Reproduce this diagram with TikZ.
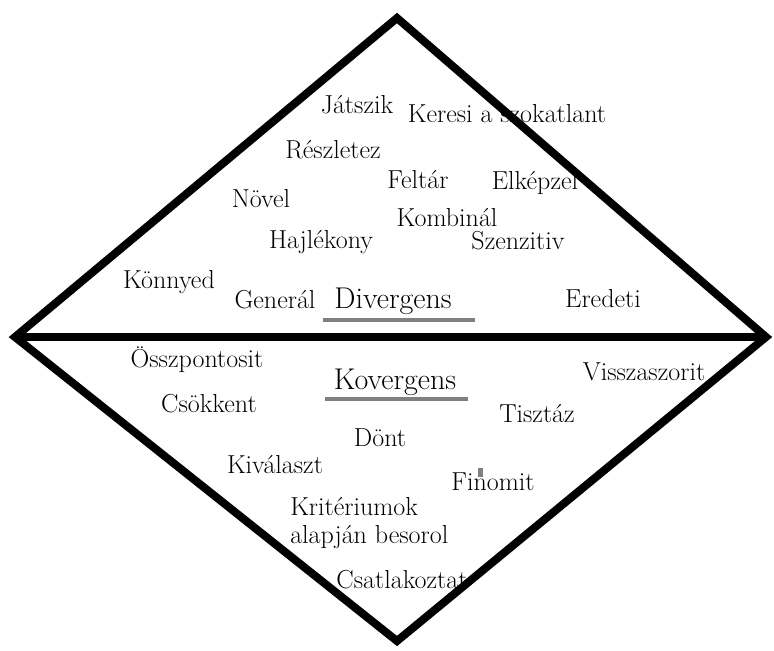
\documentclass[tikz,border=0pt]{standalone}
\begin{document}
\begin{tikzpicture}[x=0.75pt,y=-0.75pt,
  word/.style={font=\rmfamily\fontsize{19.5}{22}\selectfont, inner sep=0pt, anchor=base},
  headword/.style={font=\rmfamily\fontsize{22.5}{26}\selectfont, inner sep=0pt, anchor=base},
  frame/.style={line width=6pt, line join=miter, line cap=butt},
  midline/.style={line width=6.5pt},
  uline/.style={line width=3pt, draw={rgb,255:red,128;green,128;blue,128}}]
\useasboundingbox (0,0) rectangle (774,650);
% diamond
\coordinate (T) at (397,18);
\coordinate (L) at (15,337);
\coordinate (R) at (766,337);
\coordinate (B) at (397,641);
\draw[frame] (T) -- (R) -- (B) -- (L) -- cycle;
\draw[midline] (L) -- (R);
% upper words
\node[word] (jat) at (357,113) {Játszik};
\node[word] (ker) at (507,122) {Keresi a szokatlant};
\node[word] (res) at (333,158) {Részletez};
\node[word] (fel) at (418,188) {Feltár};
\node[word] (elk) at (535,189) {Elképzel};
\node[word] (nov) at (261,207) {Növel};
\node[word] (kom) at (447,226) {Kombinál};
\node[word] (haj) at (321,248) {Hajlékony};
\node[word] (sze) at (518,249) {Szenzitiv};
\node[word] (kon) at (169,288) {Könnyed};
\node[word] (gen) at (275,308) {Generál};
\node[headword] (div) at (393,308) {Divergens};
\node[word] (ere) at (603,307) {Eredeti};
\draw[uline] (323,320) -- (475,320);
% lower words
\node[word] (oss) at (197,367) {Összpontosit};
\node[headword] (kov) at (395,389) {Kovergens};
\draw[uline] (325,399) -- (468,399);
\node[word] (vis) at (644,380) {Visszaszorit};
\node[word] (cso) at (209,412) {Csökkent};
\node[word] (tis) at (537,422) {Tisztáz};
\node[word] (don) at (380,446) {Dönt};
\node[word] (kiv) at (275,473) {Kiválaszt};
\node[word] (fin) at (493,490) {Finomit};
\fill[gray] (478,468) rectangle (483,477);
\node[word, anchor=base west] (kri) at (290,515) {Kritériumok};
\node[word, anchor=base west] (ala) at (290,543) {alapján besorol};
\node[word] (csa) at (402,588) {Csatlakoztat};
\end{tikzpicture}
\end{document}
